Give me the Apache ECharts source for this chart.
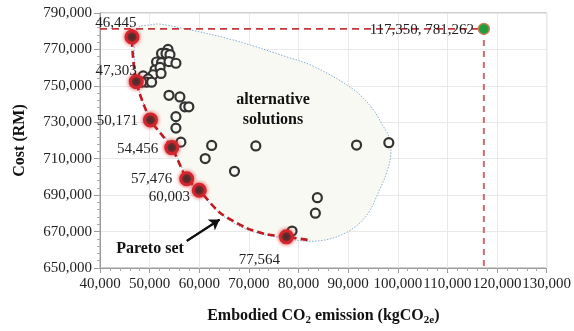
<!DOCTYPE html>
<html>
<head>
<meta charset="utf-8">
<script src="https://cdn.jsdelivr.net/npm/echarts@6/dist/echarts.min.js"></script>
<style>html,body{margin:0;padding:0;background:#fff}#c{width:574px;height:331px}</style>
</head>
<body>
<div id="c"></div>
<script>
// ---- data ----
const paretoX = [46445, 47303, 50171, 54456, 57476, 60003, 77564];
const paretoY = [776800, 752300, 731300, 716100, 699000, 692700, 667100];
const extremeX = [117350];
const extremeY = [781262];
const altX = [53700, 52400, 53300, 54100, 51400, 52400, 53900, 55300, 51100, 52100, 50700, 52300, 48700, 49700, 49400, 50400, 48400, 53900, 56100, 57100, 57900, 55300, 55300, 56300, 62500, 61200, 67100, 71400, 91700, 83800, 83400, 78700, 98200];
const altY = [770000, 767800, 767800, 767200, 763100, 762800, 763300, 762400, 758800, 760100, 756100, 756800, 755500, 753800, 752000, 752000, 752000, 744800, 743900, 738500, 738500, 733100, 726800, 719100, 717300, 710100, 703100, 717000, 717500, 688600, 680100, 670300, 718800];
const frontX = [46445, 46445, 47303, 50171, 54456, 57476, 60003, 64100, 69500, 73500, 77564, 81900];
const frontY = [781262, 776800, 752300, 731300, 716100, 699000, 692700, 680500, 672000, 668500, 667100, 665400];
const regionX = [47400, 50700, 52100, 56700, 66700, 78200, 82900, 90900, 94900, 96900, 98300, 98600, 97900, 96300, 93600, 89600, 84200, 78200, 69500, 64100, 60100, 57600, 54600, 50300, 47500];
const regionY = [781000, 783700, 783900, 781600, 775300, 765400, 760900, 748400, 737600, 728600, 721600, 712500, 703500, 692700, 678400, 669400, 664900, 665800, 671200, 680100, 691800, 699200, 716300, 731500, 752400];
const arrowX = [57500, 64100];
const arrowY = [664900, 676600];
const xMin = 40000, xMax = 130000, xStep = 10000;
const yMin = 650000, yMax = 790000, yStep = 20000;
const xTitle = 'Embodied CO{s|2} emission (kgCO{s|2e})';
const yTitle = 'Cost (RM)';
const regionText = ['alternative', 'solutions'];
const paretoText = 'Pareto set';

// ---- chart ----
const FONT = 'Liberation Serif, Times New Roman, serif';
const fmt = v => Math.round(v).toString().replace(/\B(?=(\d{3})+(?!\d))/g, ',');
const zip = (a, b) => a.map((v, i) => [v, b[i]]);
const labelOffsets = [[-16, -14], [-20, -11], [-33, 1], [-34, 1], [-35, 0], [-30, 7], [-27, 23]];

const chart = echarts.init(document.getElementById('c'), null, {renderer: 'canvas'});
const option = {
  animation: false,
  grid: {left: 100, right: 26, top: 13, bottom: 58, show: true, borderColor: '#9c9c9c', borderWidth: 1},
  xAxis: {
    type: 'value', min: xMin, max: xMax, interval: xStep,
    name: xTitle, nameLocation: 'middle', nameGap: 38,
    nameTextStyle: {
      fontFamily: FONT, fontSize: 16, fontWeight: 'bold', color: '#111',
      rich: {s: {fontFamily: FONT, fontSize: 11, fontWeight: 'bold', color: '#111', verticalAlign: 'bottom', padding: [9, 0, 0, 0]}}
    },
    axisLine: {lineStyle: {color: '#9c9c9c'}},
    axisTick: {show: true, length: 5, lineStyle: {color: '#9c9c9c'}},
    minorTick: {show: true, splitNumber: 5, length: 3, lineStyle: {color: '#aaa'}},
    axisLabel: {fontFamily: FONT, fontSize: 15, color: '#222', margin: 9, formatter: fmt},
    splitLine: {show: true, lineStyle: {color: '#e9e9e9'}}
  },
  yAxis: {
    type: 'value', min: yMin, max: yMax, interval: yStep,
    name: yTitle, nameLocation: 'middle', nameGap: 72, nameRotate: 90,
    nameTextStyle: {fontFamily: FONT, fontSize: 16, fontWeight: 'bold', color: '#111'},
    axisLine: {show: true, lineStyle: {color: '#9c9c9c'}},
    axisTick: {show: true, length: 6, lineStyle: {color: '#9c9c9c'}},
    minorTick: {show: true, splitNumber: 5, length: 3, lineStyle: {color: '#aaa'}},
    axisLabel: {fontFamily: FONT, fontSize: 15, color: '#222', margin: 8, formatter: fmt},
    splitLine: {show: true, lineStyle: {color: '#e9e9e9'}}
  },
  series: [
    {
      type: 'custom', z: 1, silent: true,
      data: zip(regionX, regionY),
      renderItem: function (params, api) {
        if (params.dataIndex !== 0) return null;
        const pts = regionX.map((x, i) => api.coord([x, regionY[i]]));
        return {
          type: 'polygon',
          shape: {points: pts, smooth: 0.35},
          style: {fill: '#f9f9f3', stroke: '#86aed6', lineWidth: 1, lineDash: [1.5, 1.5]}
        };
      }
    },
    {
      type: 'line', z: 2, silent: true, symbol: 'none',
      data: [[xMin, extremeY[0]], [extremeX[0], extremeY[0]]],
      lineStyle: {color: '#c4373c', width: 1.6, type: [7, 5]}
    },
    {
      type: 'line', z: 2, silent: true, symbol: 'none',
      data: [[extremeX[0], extremeY[0]], [extremeX[0], yMin]],
      lineStyle: {color: '#cc6a6f', width: 2, type: [6, 5]}
    },
    {
      type: 'line', z: 3, silent: true, symbol: 'none', smooth: 0.25,
      data: zip(frontX, frontY),
      lineStyle: {color: '#bf1a22', width: 2.6, type: [7, 4]}
    },
    {
      type: 'scatter', z: 4, silent: true, symbol: 'circle', symbolSize: 9,
      data: zip(altX, altY),
      itemStyle: {color: '#f9f9f4', borderColor: '#333', borderWidth: 2.2, opacity: 1}
    },
    {
      type: 'scatter', z: 5, silent: true, symbol: 'circle', symbolSize: 12,
      data: zip(paretoX, paretoY).map((d, i) => ({
        value: d,
        label: {show: true, position: 'inside', offset: labelOffsets[i], formatter: p => fmt(p.value[0])}
      })),
      itemStyle: {color: '#3a2d2d', borderColor: '#d3252d', borderWidth: 3, shadowBlur: 4, shadowColor: 'rgba(225,40,40,0.8)', opacity: 1},
      label: {fontFamily: FONT, fontSize: 15, color: '#222', align: 'center', verticalAlign: 'middle'}
    },
    {
      type: 'line', z: 6, silent: true, symbol: 'none',
      data: zip(arrowX, arrowY),
      lineStyle: {color: '#111', width: 2},
      markLine: {
        silent: true, symbol: ['none', 'arrow'], symbolSize: 10, label: {show: false},
        lineStyle: {color: '#111', width: 2, type: 'solid'},
        data: [[{coord: [arrowX[0], arrowY[0]]}, {coord: [arrowX[1], arrowY[1]]}]]
      }
    },
    {
      type: 'scatter', z: 5, silent: true, symbol: 'circle', symbolSize: 11,
      data: zip(extremeX, extremeY),
      itemStyle: {color: '#1f9e3d', borderColor: '#c58256', borderWidth: 1.5, opacity: 1},
      label: {
        show: true, position: 'inside', offset: [-62, 1], align: 'center', verticalAlign: 'middle',
        fontFamily: FONT, fontSize: 15, color: '#222',
        formatter: p => fmt(p.value[0]) + ', ' + fmt(p.value[1])
      }
    }
  ],
  graphic: [
    {type: 'text', silent: true, z: 10, x: 273, y: 100,
      style: {text: regionText[0], font: 'bold 16px ' + FONT, fill: '#111', align: 'center', verticalAlign: 'middle'}},
    {type: 'text', silent: true, z: 10, x: 273, y: 120,
      style: {text: regionText[1], font: 'bold 16px ' + FONT, fill: '#111', align: 'center', verticalAlign: 'middle'}},
    {type: 'text', silent: true, z: 10, x: 150, y: 249,
      style: {text: paretoText, font: 'bold 16px ' + FONT, fill: '#111', align: 'center', verticalAlign: 'middle'}}
  ]
};
chart.setOption(option);
</script>
</body>
</html>
